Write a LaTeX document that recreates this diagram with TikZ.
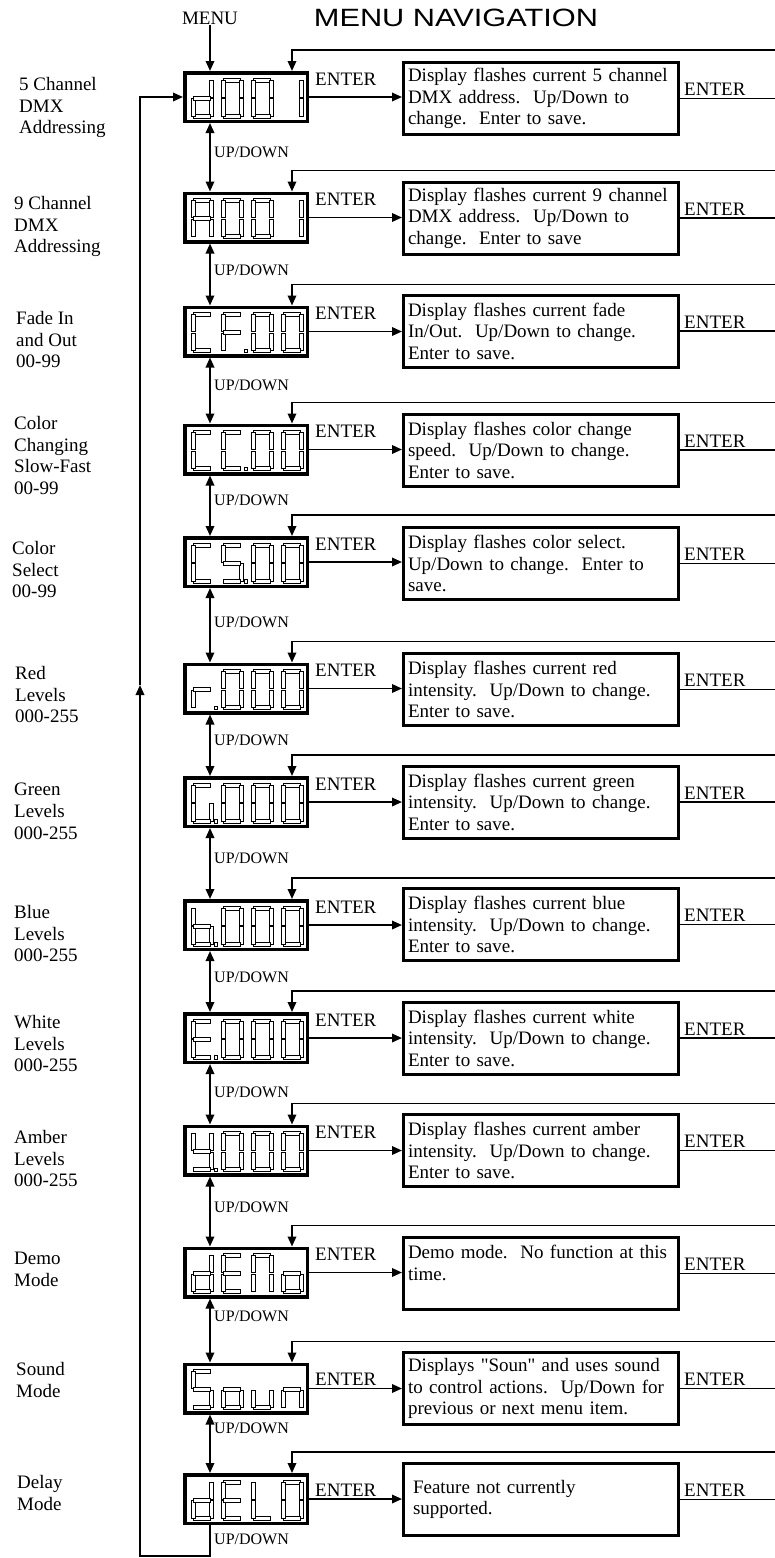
\documentclass[tikz,border=0pt]{standalone}
\usepackage{fontspec}
\setmainfont{Liberation Serif}[Ligatures=TeXOff]
\newfontfamily\titlefont{Liberation Sans}
\usetikzlibrary{arrows.meta,calc}

% seven-segment pieces (cell 22 x 40, y grows downwards)
\def\sga{\draw[segm] (2.5,0) rectangle (19.5,4);}
\def\sgb{\draw[segm] (18,2) rectangle (22,19.3);}
\def\sgc{\draw[segm] (18,20.7) rectangle (22,38);}
\def\sgd{\draw[segm] (2.5,36) rectangle (19.5,40);}
\def\sge{\draw[segm] (0,20.7) rectangle (4,38);}
\def\sgf{\draw[segm] (0,2) rectangle (4,19.3);}
\def\sgg{\draw[segm] (2.5,18) rectangle (19.5,22);}
\def\sgp{\draw[segm] (23.5,36.5) rectangle (26.5,40);}
\newcommand\segdigit[3]{\begin{scope}[shift={(#1,#2)}]\foreach \s in {#3}{\csname sg\s\endcsname}\end{scope}}
\newcommand\disp[6]{%
  \node[dispbox] (#1) at (246,#2) {};
  \segdigit{191}{#2-19}{#3}\segdigit{221}{#2-19}{#4}%
  \segdigit{251}{#2-19}{#5}\segdigit{281}{#2-19}{#6}}

\begin{document}
\begin{tikzpicture}[x=1pt,y=-1pt,
  conn/.style={line width=1.8pt},
  arr/.style={conn,-{Triangle[length=10pt,width=8.5pt]}},
  darr/.style={conn,{Triangle[length=10pt,width=8.5pt]}-{Triangle[length=10pt,width=8.5pt]}},
  dispbox/.style={draw,line width=3.5pt,minimum width=122.5pt,minimum height=48.5pt,inner sep=0pt},
  segm/.style={draw,line width=0.8pt,fill=white},
  rbox/.style={draw,line width=3pt,minimum width=275pt,minimum height=72pt,text width=266pt,align=left,inner xsep=4.5pt,inner ysep=0pt,font=\fontsize{19}{21.5}\selectfont},
  lbl/.style={anchor=north west,align=left,inner sep=0pt,font=\fontsize{19}{21.8}\selectfont},
  upd/.style={anchor=west,inner sep=0pt,font=\fontsize{16}{18}\selectfont},
  ent/.style={anchor=base west,inner sep=0pt,font=\fontsize{19}{21}\selectfont}]
\useasboundingbox (0,0) rectangle (775,1558);
\fill[white] (0,0) rectangle (775,1558);

\node[inner sep=0pt,font=\titlefont\fontsize{25}{30}\selectfont] (title) at (456,18) {\scalebox{1.23}[1]{MENU NAVIGATION}};
\node[inner sep=0pt,font=\fontsize{19}{21}\selectfont] (menu) at (210,18) {MENU};
\coordinate (vx) at (210,0);
\coordinate (fx) at (292,0);
\coordinate (ex) at (775,0);

% displays
\disp{d1}{97}{b,c,d,e,g}{a,b,c,d,e,f}{a,b,c,d,e,f}{b,c}
\disp{d2}{217.5}{a,b,c,e,f,g}{a,b,c,d,e,f}{a,b,c,d,e,f}{b,c}
\disp{d3}{331.5}{a,d,e,f}{a,e,f,g,p}{a,b,c,d,e,f}{a,b,c,d,e,f}
\disp{d4}{449.5}{a,d,e,f}{a,d,e,f,p}{a,b,c,d,e,f}{a,b,c,d,e,f}
\disp{d5}{562}{a,d,e,f}{a,c,d,f,g,p}{a,b,c,d,e,f}{a,b,c,d,e,f}
\disp{d6}{688.5}{e,g,p}{a,b,c,d,e,f}{a,b,c,d,e,f}{a,b,c,d,e,f}
\disp{d7}{802}{a,c,d,e,f,p}{a,b,c,d,e,f}{a,b,c,d,e,f}{a,b,c,d,e,f}
\disp{d8}{925}{c,d,e,f,g,p}{a,b,c,d,e,f}{a,b,c,d,e,f}{a,b,c,d,e,f}
\disp{d9}{1038}{a,d,e,f,g,p}{a,b,c,d,e,f}{a,b,c,d,e,f}{a,b,c,d,e,f}
\disp{d10}{1150.5}{b,c,d,f,g,p}{a,b,c,d,e,f}{a,b,c,d,e,f}{a,b,c,d,e,f}
\disp{d11}{1272.5}{b,c,d,e,g}{a,d,e,f,g}{a,b,c,e,f}{c,d,e,g}
\disp{d12}{1388.5}{a,c,d,f,g}{c,d,e,g}{c,d,e}{c,e,g}
\disp{d13}{1499}{b,c,d,e,g}{a,d,e,f,g}{d,e,f}{a,b,c,d,e,f}

% left labels
\node[lbl] (l1) at (19,77) {5 Channel\\DMX\\Addressing};
\node[lbl] (l2) at (14,196) {9 Channel\\DMX\\Addressing};
\node[lbl] (l3) at (16,311) {Fade In\\and Out\\00-99};
\node[lbl] (l4) at (14,416) {Color\\Changing\\Slow-Fast\\00-99};
\node[lbl] (l5) at (12,541) {Color\\Select\\00-99};
\node[lbl] (l6) at (15,666) {Red\\Levels\\000-255};
\node[lbl] (l7) at (14,783) {Green\\Levels\\000-255};
\node[lbl] (l8) at (14,905) {Blue\\Levels\\000-255};
\node[lbl] (l9) at (14,1015) {White\\Levels\\000-255};
\node[lbl] (l10) at (14,1130) {Amber\\Levels\\000-255};
\node[lbl] (l11) at (14,1252) {Demo\\Mode};
\node[lbl] (l12) at (16,1362) {Sound\\Mode};
\node[lbl] (l13) at (17,1475) {Delay\\Mode};

% right boxes
\node[rbox] (r1) at (541,98.5) {Display flashes current 5 channel\\DMX address.\ \ Up/Down to\\change.\ \ Enter to save.};
\node[rbox] (r2) at (541,218) {Display flashes current 9 channel\\DMX address.\ \ Up/Down to\\change.\ \ Enter to save};
\node[rbox] (r3) at (541,331) {Display flashes current fade\\In/Out.\ \ Up/Down to change.\\Enter to save.};
\node[rbox] (r4) at (541,450) {Display flashes color change\\speed.\ \ Up/Down to change.\\Enter to save.};
\node[rbox] (r5) at (541,563.5) {Display flashes color select.\\Up/Down to change.\ \ Enter to\\save.};
\node[rbox] (r6) at (541,689.5) {Display flashes current red\\intensity.\ \ Up/Down to change.\\Enter to save.};
\node[rbox] (r7) at (541,802) {Display flashes current green\\intensity.\ \ Up/Down to change.\\Enter to save.};
\node[rbox] (r8) at (541,924.5) {Display flashes current blue\\intensity.\ \ Up/Down to change.\\Enter to save.};
\node[rbox] (r9) at (541,1038) {Display flashes current white\\intensity.\ \ Up/Down to change.\\Enter to save.};
\node[rbox] (r10) at (541,1150.5) {Display flashes current amber\\intensity.\ \ Up/Down to change.\\Enter to save.};
\node[rbox] (r11) at (541,1273.5) {Demo mode.\ \ No function at this\\time.\\\mbox{}};
\node[rbox] (r12) at (541,1388.5) {Displays "Soun" and uses sound\\to control actions.\ \ Up/Down for\\previous or next menu item.};
\node[rbox] (r13) at (541,1499.5) {\hspace*{5pt}Feature not currently\\\hspace*{5pt}supported.};

% per-row connectors and labels
\foreach \i/\y/\uy/\eo in {1/97/152/12,2/217.5/270/12,3/331.5/385/12,4/449.5/500/12,5/562/622/12,6/688.5/740/12,7/802/858/12,8/925/977/12,9/1038/1092/12,10/1150.5/1207/12,11/1272.5/1316/12,12/1388.5/1428/3,13/1499/1539/3}{
  \draw[arr] (d\i.east) -- (d\i.east -| r\i.west);
  \node[ent] (el\i) at ($(d\i.east)+(6,-\eo)$) {ENTER};
  \draw[conn] (r\i.east) -- (r\i.east -| ex);
  \node[ent] (er\i) at ($(r\i.east)+(4,-3)$) {ENTER};
  \coordinate (fb\i) at (775,\y-47);
  \draw[arr] (fb\i) -| (d\i.north -| fx);
  \node[upd] (u\i) at (214,\uy) {UP/DOWN};
}
\foreach \i/\j in {1/2,2/3,3/4,4/5,5/6,6/7,7/8,8/9,9/10,10/11,11/12,12/13}{
  \draw[darr] (d\i.south -| vx) -- (d\j.north -| vx);
}
\draw[arr] (menu.south) -- (d1.north -| vx);

% return loop
\coordinate (bl) at (210,1556);
\coordinate (lb) at (140,1556);
\coordinate (lm) at (140,685);
\draw[arr] (d13.south -| vx) -- (bl) -- (lb) -- (lm);
\draw[arr] (lm) -- (lb |- d1.west) -- (d1.west);
\end{tikzpicture}
\end{document}
